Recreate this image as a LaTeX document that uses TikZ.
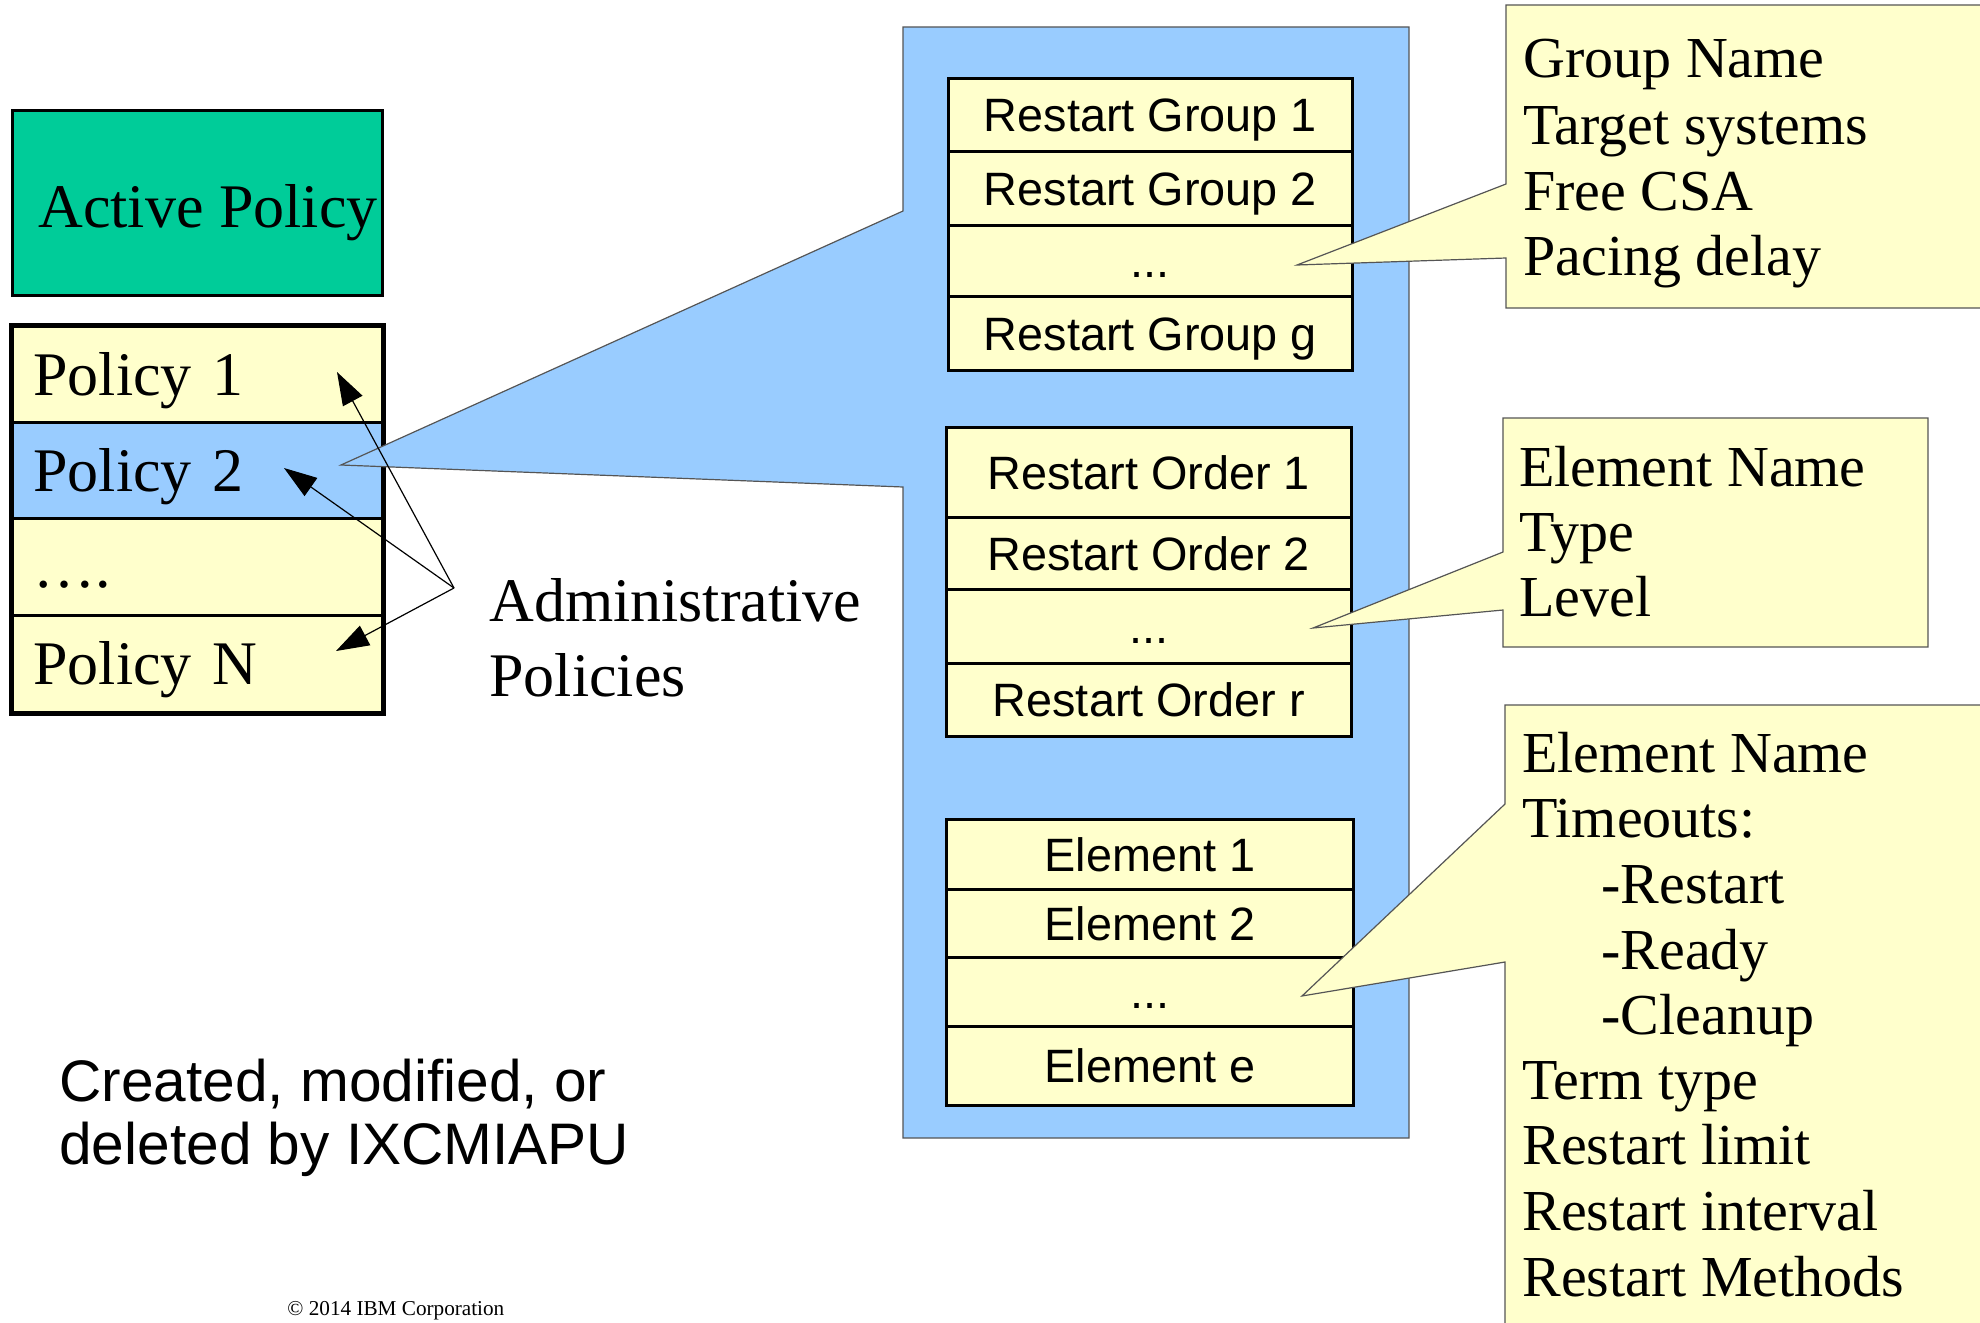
\documentclass[tikz,border=0pt]{standalone}
\usepackage{fontspec}
\setmainfont{Liberation Serif}
\newfontfamily\sansf{Liberation Sans}
\usetikzlibrary{arrows.meta}
\definecolor{actgreen}{HTML}{00CC99}
\definecolor{lightyel}{HTML}{FFFFCC}
\definecolor{panelblue}{HTML}{99CCFF}
\definecolor{edgegray}{HTML}{555555}
\begin{document}
\begin{tikzpicture}[x=0.5pt,y=-0.5pt,
  prow/.style={draw=black, line width=1.35pt, anchor=north west, minimum height=48.5pt,
    text width=164pt, inner xsep=10.5pt, inner ysep=0pt, align=left,
    text height=20.5pt, text depth=0pt, font=\fontsize{31}{37}\selectfont},
  tcell/.style={draw=black, line width=1.3pt, fill=lightyel, anchor=north west, inner sep=0pt,
    text height=16.8pt, text depth=0pt, font=\sansf\fontsize{23.4}{28}\selectfont},
  ctext/.style={anchor=base west, inner sep=0pt, font=\fontsize{29}{33}\selectfont},
  bigtext/.style={anchor=base west, inner sep=0pt, font=\fontsize{31}{37}\selectfont},
  callout/.style={fill=lightyel, draw=edgegray, line width=0.6pt},
  pointer/.style={line width=0.6pt, -{Triangle[length=16.5pt,width=11pt]}}
]
\useasboundingbox (0,0) rectangle (1980,1322);
\clip (0,0) rectangle (1980,1322);

% Active policy
\node[draw=black, line width=1.5pt, fill=actgreen, anchor=north west,
      minimum width=185pt, minimum height=92.5pt, inner sep=0pt] (active) at (11,109) {};
\node[bigtext] (activetxt) at (38,227) {Active Policy};

% Policy list
\node[prow, fill=lightyel] (p1) at (11,325) {Policy 1};
\node[prow, fill=panelblue] (p2) at (11,421) {Policy 2};
\node[prow, fill=lightyel] (p3) at (11,517) {\ldots.};
\node[prow, fill=lightyel, minimum height=48.5pt] (pn) at (11,614) {Policy N};
\draw[line width=2.5pt] (p1.north west) rectangle (pn.south east);

% Blue panel with pointer to Policy 2
\coordinate (ptip) at (341,465);
\path[fill=panelblue, draw=edgegray, line width=0.6pt]
  (903,27) -- (1409,27) -- (1409,1138) -- (903,1138) -- (903,487) -- (ptip) -- (903,211) -- cycle;

% Restart group table
\node[tcell, minimum width=202pt, minimum height=36.5pt] (g1) at (947,77) {Restart Group 1};
\node[tcell, minimum width=202pt, minimum height=37pt] (g2) at (947,150) {Restart Group 2};
\node[tcell, minimum width=202pt, minimum height=35.5pt] (g3) at (947,224) {...};
\node[tcell, minimum width=202pt, minimum height=37pt] (g4) at (947,295) {Restart Group g};

% Restart order table
\node[tcell, minimum width=202.5pt, minimum height=45pt] (o1) at (945,426) {Restart Order 1};
\node[tcell, minimum width=202.5pt, minimum height=36pt] (o2) at (945,516) {Restart Order 2};
\node[tcell, minimum width=202.5pt, minimum height=37pt] (o3) at (945,588) {...};
\node[tcell, minimum width=202.5pt, minimum height=36.5pt] (o4) at (945,662) {Restart Order r};

% Element table
\node[tcell, minimum width=203.5pt, minimum height=35pt] (e1) at (945,818) {Element 1};
\node[tcell, minimum width=203.5pt, minimum height=34pt] (e2) at (945,888) {Element 2};
\node[tcell, minimum width=203.5pt, minimum height=34.5pt] (e3) at (945,956) {...};
\node[tcell, minimum width=203.5pt, minimum height=39.5pt] (e4) at (945,1025) {Element e};

% Callout 1
\coordinate (c1tip) at (1297,265);
\path[callout] (1506,5) -- (1990,5) -- (1990,308) -- (1506,308) -- (1506,258) -- (c1tip) -- (1506,184) -- cycle;
\node[ctext] (c1a) at (1523,78) {Group Name};
\node[ctext] (c1b) at (1523,144) {Target systems};
\node[ctext] (c1c) at (1523,210) {Free CSA};
\node[ctext] (c1d) at (1523,275) {Pacing delay};

% Callout 2
\coordinate (c2tip) at (1313,628);
\path[callout] (1503,418) -- (1928,418) -- (1928,647) -- (1503,647) -- (1503,610) -- (c2tip) -- (1503,552) -- cycle;
\node[ctext] (c2a) at (1519,486) {Element Name};
\node[ctext] (c2b) at (1519,551) {Type};
\node[ctext] (c2c) at (1519,616) {Level};

% Callout 3
\coordinate (c3tip) at (1302,996);
\path[callout] (1505,705) -- (1990,705) -- (1990,1340) -- (1505,1340) -- (1505,962) -- (c3tip) -- (1505,804) -- cycle;
\node[ctext] (c3a) at (1522,772) {Element Name};
\node[ctext] (c3b) at (1522,837) {Timeouts:};
\node[ctext] (c3c) at (1601,903) {-Restart};
\node[ctext] (c3d) at (1601,969) {-Ready};
\node[ctext] (c3e) at (1601,1034) {-Cleanup};
\node[ctext] (c3f) at (1522,1099) {Term type};
\node[ctext] (c3g) at (1522,1164) {Restart limit};
\node[ctext] (c3h) at (1522,1230) {Restart interval};
\node[ctext] (c3i) at (1522,1296) {Restart Methods};

% Administrative policies label and arrows
\node[bigtext] (admin1) at (489,621) {Administrative};
\node[bigtext] (admin2) at (489,696) {Policies};
\coordinate (conv) at (454,588);
\coordinate (t1) at (337,372);
\coordinate (t2) at (284,468);
\coordinate (tn) at (336,651);
\draw[pointer] (conv) -- (t1);
\draw[pointer] (conv) -- (t2);
\draw[pointer] (conv) -- (tn);

% Bottom texts
\node[anchor=base west, inner sep=0pt, font=\sansf\fontsize{29.3}{31.5}\selectfont] (created1) at (59,1101) {Created, modified, or};
\node[anchor=base west, inner sep=0pt, font=\sansf\fontsize{29.3}{31.5}\selectfont] (created2) at (59,1164) {deleted by IXCMIAPU};
\node[anchor=base west, inner sep=0pt, font=\fontsize{10.6}{12}\selectfont] (copy) at (287,1315) {\textcopyright{} 2014 IBM Corporation};
\end{tikzpicture}
\end{document}
